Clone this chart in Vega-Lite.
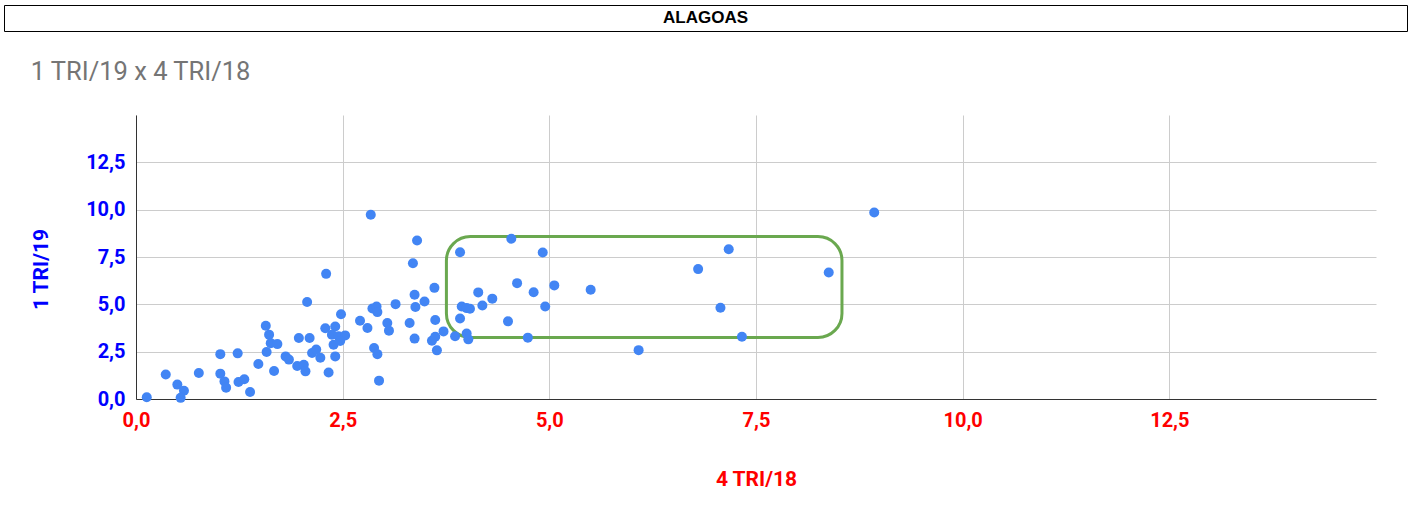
{
  "$schema": "https://vega.github.io/schema/vega-lite/v6.json",
  "background": "white",
  "padding": {"left": 3, "top": 4, "right": 0, "bottom": 0},
  "config": {"font": "Roboto", "view": {"stroke": null}},
  "spacing": 27,
  "vconcat": [
    {
      "width": 1403,
      "height": 26,
      "data": {"values": [{"estado": "ALAGOAS"}]},
      "mark": {"type": "text", "font": "Liberation Sans", "fontWeight": "bold", "fontSize": 17, "color": "black"},
      "encoding": {"text": {"field": "estado"}},
      "view": {"stroke": "black", "strokeWidth": 1}
    },
    {
      "spacing": 20,
      "hconcat": [
        {
          "width": 5,
          "height": 1,
          "data": {"values": []},
          "mark": "point",
          "view": {"stroke": "transparent"}
        },
        {
          "width": 1240,
          "height": 284,
          "title": {"text": "1 TRI/19 x 4 TRI/18", "anchor": "start", "frame": "bounds", "fontSize": 25.5, "fontWeight": "normal", "color": "#757575", "font": "Roboto", "offset": 30},
          "encoding": {
            "x": {
              "field": "q4_18", "type": "quantitative",
              "scale": {"domain": [0, 15], "nice": false, "zero": true},
              "axis": {
                "title": "4 TRI/18", "titleColor": "#ff0000", "titleFontSize": 21, "titleFontWeight": "bold", "titlePadding": 38,
                "labelColor": "#ff0000", "labelFontSize": 20, "labelFontWeight": "bold", "labelPadding": 11,
                "ticks": false, "values": [0, 2.5, 5, 7.5, 10, 12.5], "labelFlush": false, "labelOverlap": false,
                "labelExpr": "replace(format(datum.value, '.1f'), '.', ',')",
                "gridColor": "#cccccc", "domainColor": "#333333"
              }
            },
            "y": {
              "field": "q1_19", "type": "quantitative",
              "scale": {"domain": [0, 15], "nice": false, "zero": true},
              "axis": {
                "title": "1 TRI/19", "titleColor": "#0000ff", "titleFontSize": 21, "titleFontWeight": "bold", "titlePadding": 34, "titleY": 154,
                "labelColor": "#0000ff", "labelFontSize": 20, "labelFontWeight": "bold", "labelPadding": 11,
                "ticks": false, "values": [0, 2.5, 5, 7.5, 10, 12.5], "labelFlush": false, "labelOverlap": false,
                "labelExpr": "replace(format(datum.value, '.1f'), '.', ',')",
                "gridColor": "#cccccc", "domainColor": "#333333"
              }
            }
          },
          "layer": [
            {
              "data": {"values": [{"q4_18": 3.755, "q4_18_end": 8.54, "q1_19": 3.25, "q1_19_end": 8.58}]},
              "mark": {"type": "rect", "filled": false, "stroke": "#6aa84f", "strokeWidth": 3, "cornerRadius": 24},
              "encoding": {"x2": {"field": "q4_18_end"}, "y2": {"field": "q1_19_end"}}
            },
            {
              "data": {"values": [
                {"q4_18": 0.13, "q1_19": 0.09}, {"q4_18": 0.36, "q1_19": 1.29}, {"q4_18": 0.50, "q1_19": 0.76},
                {"q4_18": 0.58, "q1_19": 0.44}, {"q4_18": 0.54, "q1_19": 0.06}, {"q4_18": 0.76, "q1_19": 1.37},
                {"q4_18": 1.02, "q1_19": 2.37}, {"q4_18": 1.23, "q1_19": 2.41}, {"q4_18": 1.02, "q1_19": 1.34},
                {"q4_18": 1.07, "q1_19": 0.93}, {"q4_18": 1.09, "q1_19": 0.60}, {"q4_18": 1.24, "q1_19": 0.90},
                {"q4_18": 1.31, "q1_19": 1.04}, {"q4_18": 1.38, "q1_19": 0.37}, {"q4_18": 1.48, "q1_19": 1.85},
                {"q4_18": 1.57, "q1_19": 3.87}, {"q4_18": 1.61, "q1_19": 3.40}, {"q4_18": 1.63, "q1_19": 2.95},
                {"q4_18": 1.71, "q1_19": 2.90}, {"q4_18": 1.58, "q1_19": 2.48}, {"q4_18": 1.67, "q1_19": 1.48},
                {"q4_18": 1.97, "q1_19": 3.22}, {"q4_18": 2.10, "q1_19": 3.22}, {"q4_18": 1.81, "q1_19": 2.25},
                {"q4_18": 1.85, "q1_19": 2.08}, {"q4_18": 1.95, "q1_19": 1.74}, {"q4_18": 2.03, "q1_19": 1.81},
                {"q4_18": 2.05, "q1_19": 1.46}, {"q4_18": 2.13, "q1_19": 2.43}, {"q4_18": 2.18, "q1_19": 2.61},
                {"q4_18": 2.23, "q1_19": 2.18}, {"q4_18": 2.33, "q1_19": 1.40}, {"q4_18": 2.29, "q1_19": 3.74},
                {"q4_18": 2.41, "q1_19": 3.83}, {"q4_18": 2.37, "q1_19": 3.40}, {"q4_18": 2.45, "q1_19": 3.31},
                {"q4_18": 2.53, "q1_19": 3.36}, {"q4_18": 2.39, "q1_19": 2.87}, {"q4_18": 2.47, "q1_19": 3.06},
                {"q4_18": 2.41, "q1_19": 2.25}, {"q4_18": 2.07, "q1_19": 5.12}, {"q4_18": 2.30, "q1_19": 6.61},
                {"q4_18": 2.48, "q1_19": 4.48}, {"q4_18": 2.84, "q1_19": 9.73}, {"q4_18": 2.71, "q1_19": 4.13},
                {"q4_18": 2.80, "q1_19": 3.75}, {"q4_18": 2.86, "q1_19": 4.78}, {"q4_18": 2.91, "q1_19": 4.89},
                {"q4_18": 2.92, "q1_19": 4.59}, {"q4_18": 3.04, "q1_19": 4.01}, {"q4_18": 3.06, "q1_19": 3.61},
                {"q4_18": 3.31, "q1_19": 4.01}, {"q4_18": 3.37, "q1_19": 3.19}, {"q4_18": 2.88, "q1_19": 2.69},
                {"q4_18": 2.92, "q1_19": 2.37}, {"q4_18": 2.94, "q1_19": 0.97}, {"q4_18": 3.14, "q1_19": 5.01},
                {"q4_18": 3.37, "q1_19": 5.51}, {"q4_18": 3.38, "q1_19": 4.86}, {"q4_18": 3.49, "q1_19": 5.15},
                {"q4_18": 3.40, "q1_19": 8.37}, {"q4_18": 3.35, "q1_19": 7.17}, {"q4_18": 3.61, "q1_19": 5.87},
                {"q4_18": 3.62, "q1_19": 4.17}, {"q4_18": 3.58, "q1_19": 3.08}, {"q4_18": 3.62, "q1_19": 3.29},
                {"q4_18": 3.64, "q1_19": 2.57}, {"q4_18": 3.72, "q1_19": 3.57}, {"q4_18": 3.86, "q1_19": 3.31},
                {"q4_18": 3.92, "q1_19": 4.25}, {"q4_18": 3.94, "q1_19": 4.89}, {"q4_18": 4.04, "q1_19": 4.77},
                {"q4_18": 4.00, "q1_19": 4.80}, {"q4_18": 4.14, "q1_19": 5.63}, {"q4_18": 4.19, "q1_19": 4.94},
                {"q4_18": 4.31, "q1_19": 5.30}, {"q4_18": 4.00, "q1_19": 3.46}, {"q4_18": 4.02, "q1_19": 3.15},
                {"q4_18": 4.50, "q1_19": 4.10}, {"q4_18": 3.92, "q1_19": 7.75}, {"q4_18": 4.54, "q1_19": 8.46},
                {"q4_18": 4.61, "q1_19": 6.12}, {"q4_18": 4.81, "q1_19": 5.64}, {"q4_18": 4.92, "q1_19": 7.74},
                {"q4_18": 5.06, "q1_19": 6.00}, {"q4_18": 5.50, "q1_19": 5.77}, {"q4_18": 4.95, "q1_19": 4.89},
                {"q4_18": 4.74, "q1_19": 3.24}, {"q4_18": 6.08, "q1_19": 2.58}, {"q4_18": 6.80, "q1_19": 6.86},
                {"q4_18": 7.17, "q1_19": 7.91}, {"q4_18": 8.38, "q1_19": 6.68}, {"q4_18": 7.07, "q1_19": 4.82},
                {"q4_18": 7.33, "q1_19": 3.29}, {"q4_18": 8.93, "q1_19": 9.85}
              ]},
              "mark": {"type": "circle", "size": 100, "color": "#4285f4", "opacity": 1}
            }
          ]
        }
      ]
    }
  ]
}
